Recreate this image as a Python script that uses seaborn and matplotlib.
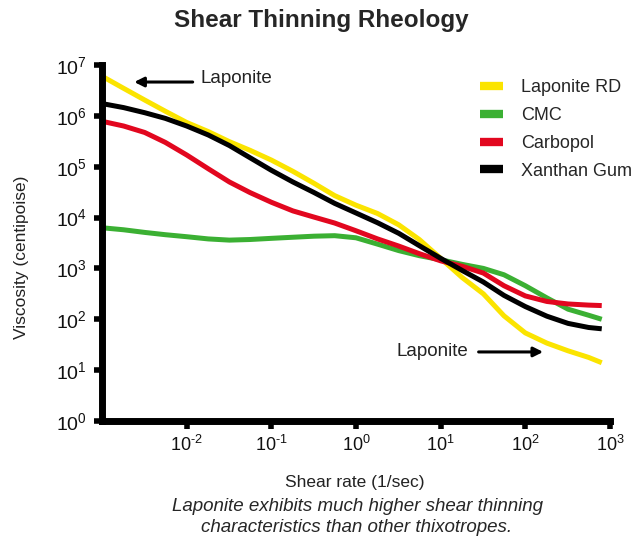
import matplotlib
matplotlib.use("Agg")
import matplotlib.pyplot as plt
import pandas as pd
import seaborn as sns

# --- data ---
shear_rate = [0.001, 0.0018, 0.0032, 0.0056, 0.01, 0.018, 0.032, 0.056, 0.1,
              0.18, 0.32, 0.56, 1.0, 1.8, 3.2, 5.6, 10, 18, 32, 56, 100, 180,
              320, 560, 800]
laponite_rd = [6.0e6, 3.47e6, 2.04e6, 1.23e6, 7.4e5, 4.9e5, 3.1e5, 2.1e5, 1.35e5,
               8.1e4, 4.7e4, 2.7e4, 1.75e4, 1.2e4, 7.2e3, 3.7e3, 1.58e3, 660, 316,
               117, 54, 34, 24, 17.8, 14]
cmc = [6.3e3, 5.75e3, 5.1e3, 4.6e3, 4.2e3, 3.8e3, 3.6e3, 3.7e3, 3.9e3,
       4.1e3, 4.3e3, 4.4e3, 4.0e3, 3.0e3, 2.24e3, 1.78e3, 1.48e3, 1.2e3, 1.0e3,
       750, 457, 263, 158, 120, 100]
carbopol = [7.8e5, 6.3e5, 4.7e5, 3.0e5, 1.7e5, 9.1e4, 5.0e4, 3.1e4, 2.0e4,
            1.35e4, 1.02e4, 7.8e3, 5.5e3, 3.8e3, 2.75e3, 1.95e3, 1.41e3, 1.1e3, 810,
            457, 288, 224, 200, 190, 186]
xanthan_gum = [1.74e6, 1.45e6, 1.15e6, 8.9e5, 6.3e5, 4.2e5, 2.6e5, 1.5e5, 8.5e4,
               5.0e4, 3.1e4, 1.9e4, 1.23e4, 7.9e3, 4.9e3, 2.8e3, 1.58e3, 910, 540,
               295, 178, 115, 83, 69, 65]

materials = ["Laponite RD", "CMC", "Carbopol", "Xanthan Gum"]
colors = ["#FBE400", "#3BB033", "#E2071F", "#000000"]

x_ticks = [1e-2, 1e-1, 1e0, 1e1, 1e2, 1e3]
x_tick_labels = ["-2", "-1", "0", "1", "2", "3"]
y_ticks = [1e0, 1e1, 1e2, 1e3, 1e4, 1e5, 1e6, 1e7]
y_tick_labels = ["0", "1", "2", "3", "4", "5", "6", "7"]


def power_label(exp):
    # hyphen instead of the long math minus, like the original
    exp = exp.replace("-", r"\text{-}")
    return r"$\mathregular{10^{%s}}$" % exp


# --- style ---
sns.set_theme(style="white")
plt.rcParams.update({
    "font.family": ["Liberation Sans", "DejaVu Sans"],
    "mathtext.fontset": "custom",
    "mathtext.rm": "Liberation Sans",
    "mathtext.it": "Liberation Sans:italic",
    "mathtext.bf": "Liberation Sans:bold",
    "axes.unicode_minus": False,
})

frames = []
for name, vals in zip(materials, [laponite_rd, cmc, carbopol, xanthan_gum]):
    frames.append(pd.DataFrame({"shear": shear_rate, "visc": vals, "material": name}))
df = pd.concat(frames, ignore_index=True)

fig = plt.figure(figsize=(6.43, 5.42), dpi=100)
ax = fig.add_axes([0.1586, 0.2232, 0.790, 0.657])

sns.lineplot(data=df, x="shear", y="visc", hue="material", hue_order=materials,
             palette=colors, linewidth=3.6, sort=False, estimator=None,
             ax=ax, legend=True)
for line in ax.get_lines():
    line.set_solid_capstyle("butt")
    line.set_solid_joinstyle("round")

ax.set_xscale("log")
ax.set_yscale("log")
ax.set_xlim(1e-3, 1e3)
ax.set_ylim(1e0, 1e7)

ax.set_xticks(x_ticks)
ax.set_xticklabels([power_label(t) for t in x_tick_labels], fontsize=13)
ax.set_yticks(y_ticks)
ax.set_yticklabels([power_label(t) for t in y_tick_labels], fontsize=14)
ax.minorticks_off()
ax.tick_params(axis="both", direction="out", length=6, width=4, color="black",
               labelcolor="#111111", bottom=True, left=True)
ax.tick_params(axis="x", pad=4)
ax.tick_params(axis="y", pad=5)

for side in ["top", "right"]:
    ax.spines[side].set_visible(False)
for side in ["left", "bottom"]:
    ax.spines[side].set_linewidth(5)
    ax.spines[side].set_color("black")
    ax.spines[side].set_capstyle("projecting")

ax.set_xlabel("")
ax.set_ylabel("")
ax.grid(False)

leg = ax.legend(loc="upper left", bbox_to_anchor=(0.744, 0.96), frameon=False,
                fontsize=13, handlelength=1.3, handletextpad=1.0, labelspacing=0.6,
                borderpad=0, borderaxespad=0)
for h in leg.get_lines():
    h.set_linewidth(6)
    h.set_solid_capstyle("butt")

# annotations
ax.text(0.193, 0.963, "Laponite", transform=ax.transAxes, fontsize=13.5,
        ha="left", va="center", color="#222222")
ax.annotate("", xy=(0.058, 0.952), xytext=(0.184, 0.952),
            xycoords="axes fraction", textcoords="axes fraction",
            arrowprops=dict(arrowstyle="-|>", lw=2.2, color="black", mutation_scale=14))
ax.text(0.579, 0.194, "Laponite", transform=ax.transAxes, fontsize=13.5,
        ha="left", va="center", color="#222222")
ax.annotate("", xy=(0.874, 0.194), xytext=(0.736, 0.194),
            xycoords="axes fraction", textcoords="axes fraction",
            arrowprops=dict(arrowstyle="-|>", lw=2.2, color="black", mutation_scale=14))

# titles and captions
fig.text(0.5, 1 - 20 / 542, "Shear Thinning Rheology", ha="center", va="center",
         fontsize=17.5, fontweight="bold")
fig.text(22 / 643, 1 - 257 / 542, "Viscosity (centipoise)", rotation=90,
         ha="center", va="center", fontsize=12.5, color="#222222")
fig.text(355 / 643, 1 - 483 / 542, "Shear rate (1/sec)", ha="center", va="center",
         fontsize=12.5, color="#222222")
fig.text(357 / 643, 1 - 517 / 542,
         "Laponite exhibits much higher shear thinning\ncharacteristics than other thixotropes.",
         ha="center", va="center", fontsize=13.5, style="italic", linespacing=1.25)

fig.savefig("out.png", dpi=100)
